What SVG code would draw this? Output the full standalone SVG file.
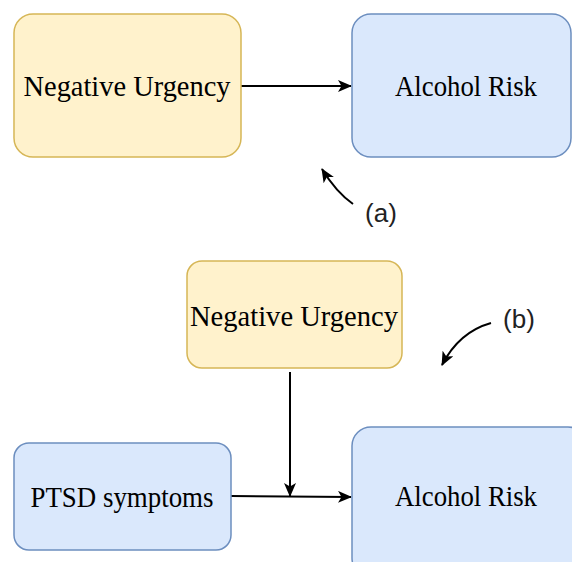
<svg xmlns="http://www.w3.org/2000/svg" width="572" height="562" viewBox="0 0 572 562">
<style>
.y{fill:#fff2cc;stroke:#d6b656;stroke-width:1.5}
.b{fill:#dae8fc;stroke:#6c8ebf;stroke-width:1.5}
.t{font-family:"Liberation Serif","Times New Roman",serif;font-size:28.5px;fill:#000;text-anchor:middle}
.l{font-family:"Liberation Sans",Arial,sans-serif;font-size:26px;fill:#222;text-anchor:middle}
.c{fill:none;stroke:#000;stroke-width:2}
</style>
<defs>
<marker id="ah" viewBox="0 0 14 12" refX="13" refY="6" markerWidth="14" markerHeight="12" markerUnits="userSpaceOnUse" orient="auto">
<path d="M0,0 L14,6 L0,12 L3.5,6 Z" fill="#000"/>
</marker>
</defs>
<rect width="572" height="562" fill="#fff"/>
<g id="connectors">
<path class="c" d="M241,86 L351,86" marker-end="url(#ah)"/>
<path class="c" d="M231,496 L351,497" marker-end="url(#ah)"/>
<path class="c" d="M290,372 L290,496" marker-end="url(#ah)"/>
<path class="c" d="M353,204 Q336,192 322,169" marker-end="url(#ah)"/>
<path class="c" d="M491,323 Q459,332 442,365" marker-end="url(#ah)"/>
</g>
<g id="nu-a"><rect class="y" x="14" y="14" width="227" height="143" rx="19"/><text class="t" x="127" y="96" textLength="207" lengthAdjust="spacingAndGlyphs">Negative Urgency</text></g>
<g id="ar-a"><rect class="b" x="352" y="14" width="219" height="143" rx="19"/><text class="t" x="466" y="96" textLength="142" lengthAdjust="spacingAndGlyphs">Alcohol Risk</text></g>
<g id="label-a"><text class="l" x="381" y="222">(a)</text></g>
<g id="nu-b"><rect class="y" x="187" y="261" width="215" height="107" rx="15"/><text class="t" x="294" y="326" textLength="208" lengthAdjust="spacingAndGlyphs">Negative Urgency</text></g>
<g id="label-b"><text class="l" x="519" y="328">(b)</text></g>
<g id="ptsd"><rect class="b" x="14" y="443" width="217" height="107" rx="15"/><text class="t" x="122" y="507" textLength="183" lengthAdjust="spacingAndGlyphs">PTSD symptoms</text></g>
<g id="ar-b"><rect class="b" x="352" y="427" width="235" height="150" rx="19"/><text class="t" x="466" y="506" textLength="142" lengthAdjust="spacingAndGlyphs">Alcohol Risk</text></g>
</svg>
